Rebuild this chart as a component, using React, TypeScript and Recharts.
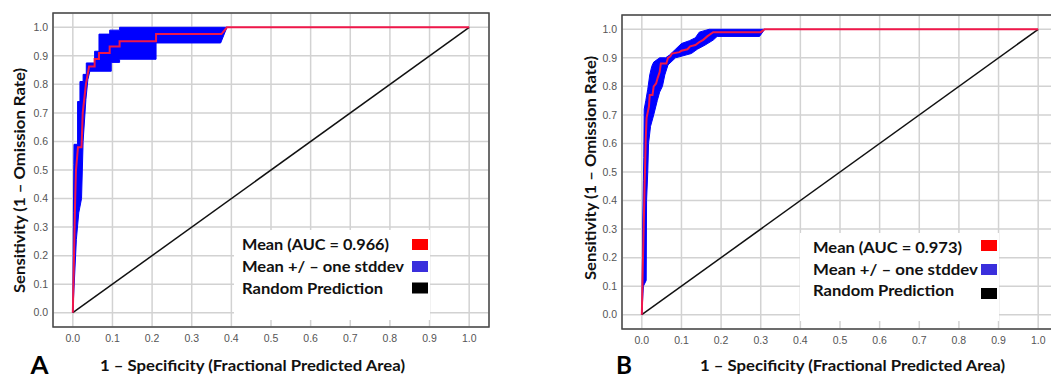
import { ComposedChart, Area, Line, XAxis, YAxis, CartesianGrid, ReferenceArea } from 'recharts'

type Pt = [number, number]

// shared axis ticks
const axisTicks = [0, 0.1, 0.2, 0.3, 0.4, 0.5, 0.6, 0.7, 0.8, 0.9, 1.0]
const diagonal: Pt[] = [[0, 0], [1, 1]]

// panel A (AUC 0.966)
const meanA: Pt[] = [
  [0, 0], [0.003, 0.2], [0.006, 0.4], [0.008, 0.5], [0.013, 0.58], [0.022, 0.58], [0.025, 0.7],
  [0.033, 0.8], [0.041, 0.863], [0.055, 0.863], [0.055, 0.889], [0.066, 0.889], [0.066, 0.91],
  [0.093, 0.91], [0.093, 0.933], [0.118, 0.933], [0.118, 0.951], [0.21, 0.951], [0.21, 0.976],
  [0.375, 0.976], [0.389, 1], [1, 1],
]
const upperA: Pt[] = [
  [0, 0], [0.0015, 0.35], [0.0025, 0.52], [0.003, 0.59], [0.012, 0.59], [0.012, 0.74], [0.018, 0.74],
  [0.018, 0.81], [0.026, 0.81], [0.026, 0.835], [0.034, 0.835], [0.034, 0.875], [0.055, 0.875],
  [0.055, 0.916], [0.066, 0.916], [0.066, 0.976], [0.093, 0.976], [0.093, 0.99], [0.118, 0.99],
  [0.118, 1.0], [0.389, 1.0],
]
const lowerA: Pt[] = [
  [0, 0], [0.009, 0.257], [0.015, 0.35], [0.022, 0.4], [0.026, 0.6], [0.033, 0.747], [0.038, 0.817],
  [0.043, 0.846], [0.097, 0.846], [0.097, 0.877], [0.118, 0.877], [0.118, 0.888], [0.21, 0.888],
  [0.21, 0.945], [0.373, 0.945], [0.389, 1.0],
]

// panel B (AUC 0.973)
const meanB: Pt[] = [
  [0, 0], [0.003, 0.2], [0.007, 0.45], [0.01, 0.62], [0.012, 0.69], [0.018, 0.73], [0.02, 0.77],
  [0.027, 0.77], [0.03, 0.8], [0.036, 0.81], [0.04, 0.83], [0.045, 0.85], [0.048, 0.88], [0.062, 0.88],
  [0.066, 0.9], [0.072, 0.905], [0.076, 0.915], [0.095, 0.92], [0.1, 0.925], [0.115, 0.93],
  [0.122, 0.94], [0.135, 0.945], [0.145, 0.955], [0.155, 0.963], [0.165, 0.975], [0.18, 0.99],
  [0.3, 0.99], [0.31, 1.0], [1, 1],
]
const upperB: Pt[] = [
  [0, 0], [0.001, 0.1], [0.002, 0.3], [0.004, 0.47], [0.005, 0.55], [0.006, 0.72], [0.01, 0.75],
  [0.015, 0.79], [0.02, 0.84], [0.025, 0.87], [0.03, 0.885], [0.045, 0.9], [0.06, 0.9], [0.07, 0.91],
  [0.085, 0.93], [0.1, 0.95], [0.12, 0.96], [0.135, 0.97], [0.145, 0.99], [0.17, 1.0], [0.31, 1.0],
]
const lowerB: Pt[] = [
  [0, 0], [0.004, 0.1], [0.011, 0.12], [0.012, 0.4], [0.015, 0.5], [0.017, 0.6], [0.022, 0.66],
  [0.03, 0.7], [0.039, 0.75], [0.045, 0.78], [0.052, 0.8], [0.058, 0.84], [0.066, 0.875],
  [0.085, 0.9], [0.125, 0.915], [0.14, 0.93], [0.16, 0.945], [0.18, 0.962], [0.19, 0.975],
  [0.297, 0.975], [0.31, 1.0],
]

const legendLabels = ['Mean (AUC = 0.966)', 'Mean +/ \u2013 one stddev', 'Random Prediction']
const legendLabelsB = ['Mean (AUC = 0.973)', 'Mean +/ \u2013 one stddev', 'Random Prediction']
const xTitle = '1 \u2013 Specificity (Fractional Predicted Area)'
const yTitle = 'Sensitivity (1 \u2013 Omission Rate)'

const rows = (pts: Pt[]) => pts.map(([x, y]) => ({ x, y }))
// closed outline: upper edge left->right, lower edge back
const band = (up: Pt[], lo: Pt[]) => rows([...up, ...[...lo].reverse()])

const TITLE_FONT = 'Lato, "Open Sans", sans-serif'

function RocPanel({ mean, upper, lower, left, top, plotH }: {
  mean: Pt[]; upper: Pt[]; lower: Pt[]; left: number; top: number; plotH: number
}) {
  const width = 500
  const height = 378
  return (
    <div style={{ position: 'absolute', left, top: 0 }}>
      <ComposedChart width={width} height={height} margin={{ top, right: 11, bottom: 0, left: 0 }}>
        <CartesianGrid stroke="#d2d2d2" strokeWidth={1.5} />
        <XAxis
          dataKey="x"
          type="number"
          domain={[-0.05, 1.05]}
          ticks={axisTicks}
          allowDataOverflow
          tickFormatter={(v: number) => v.toFixed(1)}
          axisLine={false}
          tickLine={false}
          tickSize={6}
          tickMargin={2}
          height={height - top - plotH}
          tick={{ fill: '#555', fontSize: 10.5, fontFamily: 'Liberation Sans, Arial, sans-serif' }}
        />
        <YAxis
          dataKey="y"
          type="number"
          domain={[-0.05, 1.05]}
          ticks={axisTicks}
          allowDataOverflow
          tickFormatter={(v: number) => v.toFixed(1)}
          axisLine={false}
          tickLine={false}
          tickSize={3}
          tickMargin={2}
          width={53}
          tick={{ fill: '#555', fontSize: 10.5, fontFamily: 'Liberation Sans, Arial, sans-serif' }}
        />
        <Area
          data={band(upper, lower)}
          dataKey="y"
          type="linear"
          baseValue={0}
          stroke="#0000ff"
          strokeWidth={1}
          fill="#0000ff"
          fillOpacity={1}
          isAnimationActive={false}
          dot={false}
          activeDot={false}
        />
        <Line
          data={rows(diagonal)}
          dataKey="y"
          type="linear"
          stroke="#111"
          strokeWidth={1.5}
          dot={false}
          activeDot={false}
          isAnimationActive={false}
        />
        <Line
          data={rows(mean)}
          dataKey="y"
          type="linear"
          stroke="#f0174a"
          strokeWidth={2}
          dot={false}
          activeDot={false}
          isAnimationActive={false}
        />
        <ReferenceArea x1={-0.05} x2={1.05} y1={-0.05} y2={1.05} fill="none" stroke="#474747" strokeWidth={1.5} ifOverflow="visible" />
      </ComposedChart>
    </div>
  )
}

function Legend({ x, y0, labels, lengths, boxX, boxY, boxW, boxH, swX, swY }: {
  x: number; y0: number[]; labels: string[]; lengths: number[]
  boxX: number; boxY: number; boxW: number; boxH: number; swX: number; swY: number[]
}) {
  const colors = ['#ff0000', '#3a2fdc', '#000000']
  return (
    <g>
      <rect x={boxX} y={boxY} width={boxW} height={boxH} fill="#fff" />
      {labels.map((t, i) => (
        <text key={t} x={x} y={y0[i]} fontFamily={TITLE_FONT} fontWeight={700} fontSize={16}
          textLength={lengths[i]} lengthAdjust="spacingAndGlyphs" fill="#111">{t}</text>
      ))}
      {colors.map((c, i) => (
        <rect key={c} x={swX} y={swY[i]} width={16} height={11} fill={c} />
      ))}
    </g>
  )
}

export default function App() {
  return (
    <div style={{ position: 'absolute', left: 0, top: 0, width: 1051, height: 378, overflow: 'hidden', background: '#fff' }}>
      <RocPanel mean={meanA} upper={upperA} lower={lowerA} left={0} top={13} plotH={314} />
      <RocPanel mean={meanB} upper={upperB} lower={lowerB} left={569} top={15} plotH={314} />
      <svg width={1051} height={378} style={{ position: 'absolute', left: 0, top: 0, pointerEvents: 'none' }}>
        <Legend x={242} y0={[250, 272, 293.5]} labels={legendLabels} lengths={[147, 162, 141]}
          boxX={234} boxY={230} boxW={196} boxH={90} swX={412} swY={[239, 261, 282.5]} />
        <Legend x={813} y0={[252.5, 274.5, 296]} labels={legendLabelsB} lengths={[149, 165, 141]}
          boxX={800} boxY={233} boxW={199} boxH={88} swX={981} swY={[240, 264, 288]} />
        <text x={100} y={371} fontFamily={TITLE_FONT} fontWeight={700} fontSize={16}
          textLength={305} lengthAdjust="spacingAndGlyphs" fill="#111">{xTitle}</text>
        <text x={700} y={371} fontFamily={TITLE_FONT} fontWeight={700} fontSize={16}
          textLength={305} lengthAdjust="spacingAndGlyphs" fill="#111">{xTitle}</text>
        <text transform="translate(25,293) rotate(-90)" fontFamily={TITLE_FONT} fontWeight={700} fontSize={16}
          textLength={225} lengthAdjust="spacingAndGlyphs" fill="#111">{yTitle}</text>
        <text transform="translate(596,280) rotate(-90)" fontFamily={TITLE_FONT} fontWeight={700} fontSize={16}
          textLength={224} lengthAdjust="spacingAndGlyphs" fill="#111">{yTitle}</text>
        <text x={30.5} y={373.5} fontFamily={TITLE_FONT} fontWeight={700} fontSize={24}
          textLength={18} lengthAdjust="spacingAndGlyphs" fill="#000">A</text>
        <text x={616} y={373.5} fontFamily={TITLE_FONT} fontWeight={700} fontSize={24}
          textLength={16} lengthAdjust="spacingAndGlyphs" fill="#000">B</text>
      </svg>
    </div>
  )
}
